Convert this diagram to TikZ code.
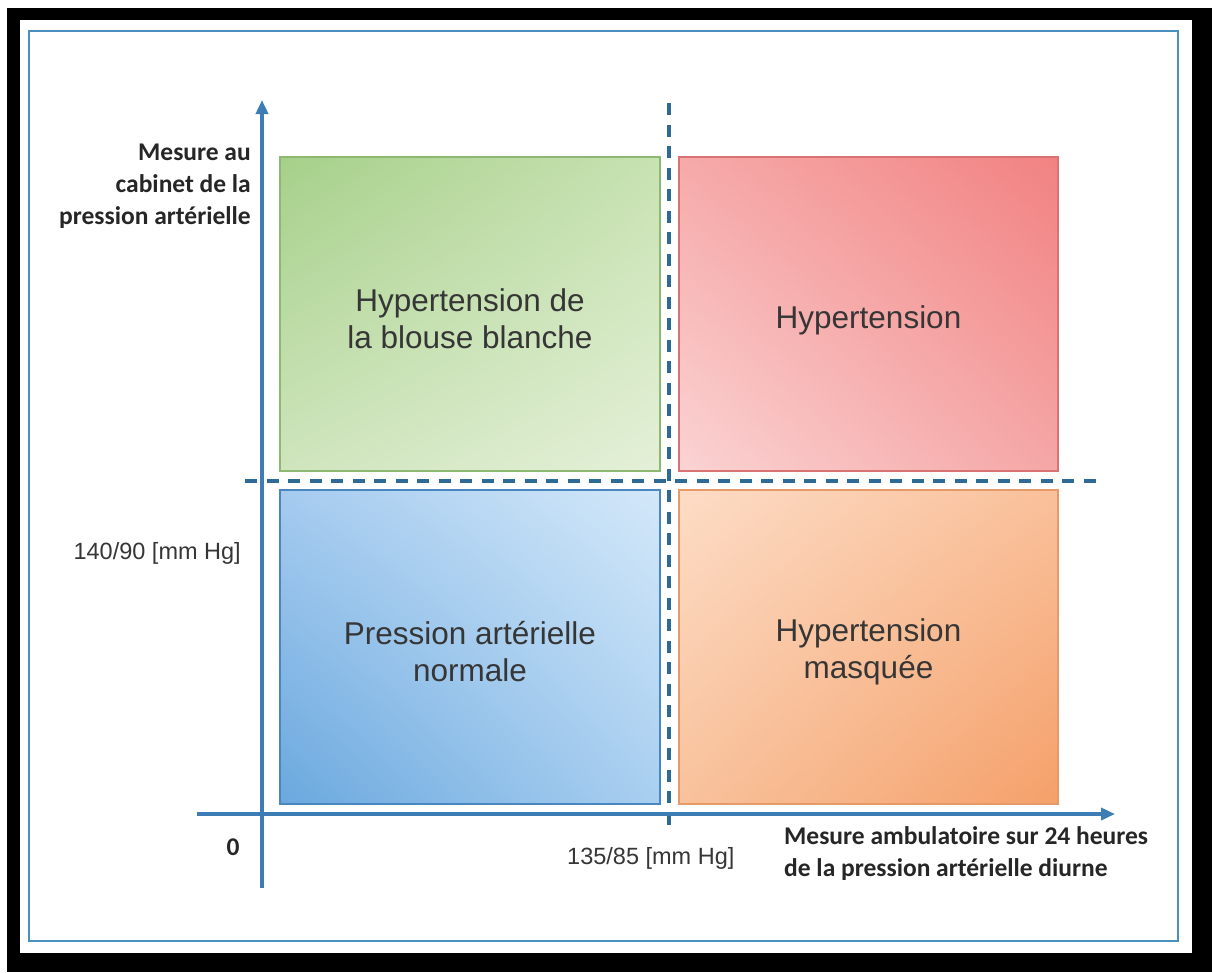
\documentclass[tikz,border=0pt]{standalone}
\usepackage{fontspec}
\setmainfont{Liberation Sans}
\newfontfamily\calib{Carlito}
\usetikzlibrary{arrows.meta,shadings}
\definecolor{axisblue}{HTML}{3C7DB5}
\definecolor{dashblue}{HTML}{2E6A96}
\definecolor{frameblue}{HTML}{4A8FBF}
\definecolor{txtdark}{HTML}{262626}
\definecolor{txtgray}{HTML}{363636}
% green
\definecolor{gUL}{HTML}{A6D08A}\definecolor{gUR}{HTML}{C8E2B2}
\definecolor{gLL}{HTML}{CFE5BD}\definecolor{gLR}{HTML}{E4F0D8}
\definecolor{gB}{HTML}{8DB872}
% red
\definecolor{rUL}{HTML}{F6AAAA}\definecolor{rUR}{HTML}{F28282}
\definecolor{rLL}{HTML}{FBD3D3}\definecolor{rLR}{HTML}{F5A6A6}
\definecolor{rB}{HTML}{D97272}
% blue
\definecolor{bUL}{HTML}{A5CBEF}\definecolor{bUR}{HTML}{D3E8F9}
\definecolor{bLL}{HTML}{6AA8DE}\definecolor{bLR}{HTML}{A9CFF0}
\definecolor{bB}{HTML}{4A86C0}
% orange
\definecolor{oUL}{HTML}{FDDCC6}\definecolor{oUR}{HTML}{F9C09A}
\definecolor{oLL}{HTML}{F8C29C}\definecolor{oLR}{HTML}{F5A06A}
\definecolor{oB}{HTML}{E69A6A}
\tikzset{
  quad/.style={draw, line width=1.2pt, inner sep=0pt, minimum width=#1, minimum height=314pt},
  axisline/.style={axisblue, line width=4pt, -{Triangle[length=14pt,width=12pt]}},
  threshold/.style={dashblue, line width=4pt, dash pattern=on 12pt off 9.5pt},
  boldlbl/.style={font=\calib\bfseries\fontsize{25.5}{32}\selectfont, text=txtdark, inner sep=0pt},
  lightlbl/.style={font=\fontsize{23.5}{27}\selectfont, text=txtgray, inner sep=0pt},
  boxlbl/.style={font=\fontsize{31.5}{37}\selectfont, text=txtgray, align=center, inner sep=0pt}
}
\begin{document}
\begin{tikzpicture}[x=1pt,y=-1pt]
\useasboundingbox (0,0) rectangle (1212,972);
\fill[white] (0,0) rectangle (1212,972);
\fill[black] (7,8) rectangle (1212,972);
\fill[white] (20,20) rectangle (1192,953);
\draw[frameblue, line width=1.5pt] (29,31) rectangle (1178,941);

% quadrants
\node[quad=380pt, draw=gB, upper left=gUL, upper right=gUR, lower left=gLL, lower right=gLR] (green) at (470,314) {};
\node[quad=379pt, draw=rB, upper left=rUL, upper right=rUR, lower left=rLL, lower right=rLR] (red) at (868.5,314) {};
\node[quad=380pt, draw=bB, upper left=bUL, upper right=bUR, lower left=bLL, lower right=bLR] (blue) at (470,647) {};
\node[quad=379pt, draw=oB, upper left=oUL, upper right=oUR, lower left=oLL, lower right=oLR] (orange) at (868.5,647) {};

\node[boxlbl] (lgreen) at (470,319) {Hypertension de\\la blouse blanche};
\node[boxlbl] (lred) at (868.5,320) {Hypertension};
\node[boxlbl] (lblue) at (470,652) {Pression artérielle\\normale};
\node[boxlbl] (lorange) at (868.5,652) {Hypertension\\masquée};

% thresholds
\coordinate (vtop) at (669,103);
\coordinate (vbot) at (669,833);
\coordinate (hleft) at (245,481);
\coordinate (hright) at (1098,481);
\draw[threshold] (vtop) -- (vbot);
\draw[threshold] (hleft) -- (hright);

% axes
\coordinate (ybot) at (262,888);
\coordinate (ytip) at (262,100);
\coordinate (xleft) at (197,814);
\coordinate (xtip) at (1115,814);
\draw[axisline] (ybot) -- (ytip);
\draw[axisline] (xleft) -- (xtip);

% labels
\node[boldlbl, anchor=east, align=right] (ylab) at (251,186) {Mesure au\\cabinet de la\\pression artérielle};
\node[lightlbl, anchor=east] (ythr) at (241,553) {140/90 [mm Hg]};
\node[boldlbl] (zero) at (233,847) {0};
\node[lightlbl, anchor=west] (xthr) at (567,858) {135/85 [mm Hg]};
\node[boldlbl, anchor=west, align=left] (xlab) at (784,854) {Mesure ambulatoire sur 24 heures\\de la pression artérielle diurne};
\end{tikzpicture}
\end{document}
